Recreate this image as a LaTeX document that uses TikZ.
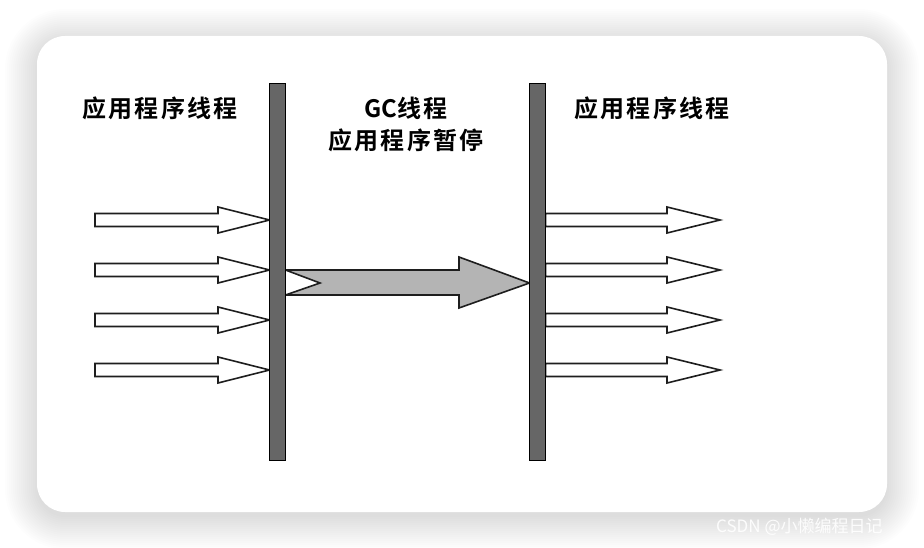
\documentclass[tikz,border=0pt]{standalone}
\usepackage{fontspec}
\newfontfamily\cjk[LetterSpace=9]{Noto Sans CJK SC Bold}
\newfontfamily\cjkg{Noto Sans CJK SC Bold}
\newfontfamily\cjkl{Noto Sans CJK SC}
\usetikzlibrary{calc}
\definecolor{barfill}{HTML}{666666}
\definecolor{bigfill}{HTML}{B4B4B4}
\definecolor{edge}{HTML}{1E1E1E}
\tikzset{
  bar/.style={draw=black, line width=1pt, fill=barfill, minimum width=15pt, minimum height=376pt, inner sep=0pt},
  hollow/.style={draw=edge, line width=1.6pt, fill=white, line join=miter},
  bigarrow/.style={draw=edge, line width=1.6pt, fill=bigfill, line join=miter},
  ttext/.style={font=\cjk\fontsize{24}{30}\selectfont, inner sep=0pt, align=center, text=black},
  wmark/.style={font=\cjkl\fontsize{17}{20}\selectfont, inner sep=0pt, text=white, opacity=0.9}
}
\begin{document}
\begin{tikzpicture}[x=1pt,y=-1pt]
\useasboundingbox (0,0) rectangle (924,548);
\fill[white] (0,0) rectangle (924,548);
% soft shadow layers
\foreach \d in {32,30,...,0}{
  \fill[black, opacity=0.009, rounded corners=28pt+\d] (37-\d,36-\d+5) rectangle (887+\d,512+\d+5);
}
\fill[white, rounded corners=28pt] (37,36) rectangle (887,512);

% bars
\node[bar] (L) at (277.5,272) {};
\node[bar] (R) at (537.5,272) {};

% left hollow arrows
\foreach \y [count=\i] in {220,270,320,370}{
  \coordinate (la\i) at (95,\y);
  \draw[hollow] (la\i) ++(0,-6.5) -- (218,\y-6.5) -- (218,\y-13) -- (L.west |- 0,\y) -- (218,\y+13) -- (218,\y+6.5) -- (95,\y+6.5) -- cycle;
}
% right hollow arrows
\foreach \y [count=\i] in {220,270,320,370}{
  \coordinate (ra\i) at (720,\y);
  \draw[hollow] (R.east |- 0,\y) ++(0,-6.5) -- (667,\y-6.5) -- (667,\y-13) -- (ra\i) -- (667,\y+13) -- (667,\y+6.5) -- (R.east |- 0,\y+6.5) -- cycle;
}
% big gray arrow
\draw[bigarrow] (L.east |- 0,270) -- (459,270) -- (459,257) -- (R.west |- 0,283) -- (459,308) -- (459,295) -- (L.east |- 0,295) -- (320,283) -- cycle;
\draw[draw=black, line width=1pt, fill=barfill] (L.north west) rectangle (L.south east);
\draw[draw=black, line width=1pt, fill=barfill] (R.north west) rectangle (R.south east);

% labels
\node[ttext] (t1) at (160,108) {应用程序线程};
\node[ttext] (t2) at (406,108) {{\cjkg GC}线程};
\node[ttext] (t3) at (406,140) {应用程序暂停};
\node[ttext] (t4) at (652,108) {应用程序线程};

% watermark
\node[wmark, anchor=west] (wm) at (716,527) {CSDN @小懒编程日记};
\end{tikzpicture}
\end{document}
